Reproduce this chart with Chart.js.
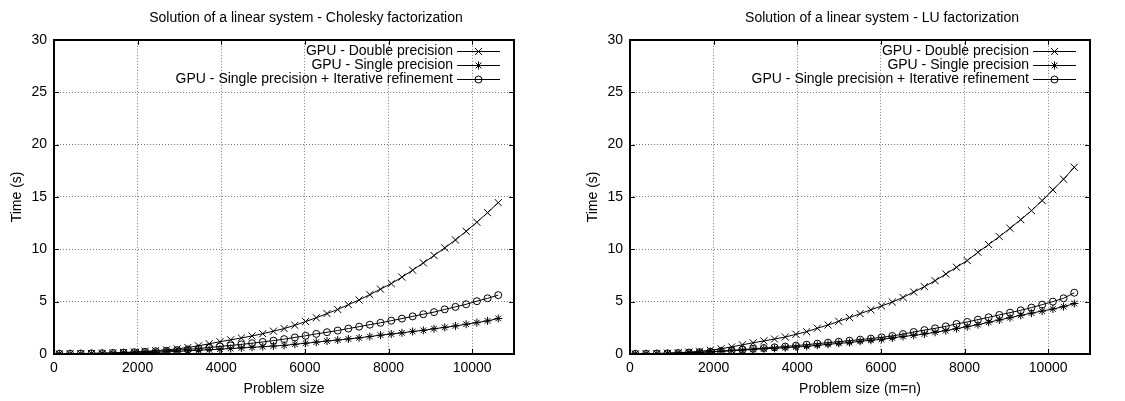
<!DOCTYPE html>
<html>
<head>
<meta charset="utf-8">
<script src="https://cdn.jsdelivr.net/npm/chart.js@4/dist/chart.umd.min.js"></script>
<style>
    html, body { margin: 0; padding: 0; background: #fff; overflow: hidden; }
    body { width: 1125px; height: 401px; position: relative; }
    canvas { position: absolute; top: 0; }
    #cholCanvas { left: 0; }
    #luCanvas { left: 576px; }
</style>
</head>
<body>
<canvas id="cholCanvas" width="612" height="401"></canvas>
<canvas id="luCanvas" width="612" height="401"></canvas>
<script>
// Problem sizes (same for both panels)
const problemSizes = [128, 384, 640, 896, 1152, 1408, 1664, 1920, 2176, 2432, 2688, 2944, 3200, 3456,
    3712, 3968, 4224, 4480, 4736, 4992, 5248, 5504, 5760, 6016, 6272, 6528, 6784, 7040,
    7296, 7552, 7808, 8064, 8320, 8576, 8832, 9088, 9344, 9600, 9856, 10112, 10368, 10624];

const seriesLabels = [
    'GPU - Double precision',
    'GPU - Single precision',
    'GPU - Single precision + Iterative refinement'
];

// Cholesky factorization, time (s)
const cholDouble = [0.01, 0.02, 0.03, 0.05, 0.07, 0.10, 0.14, 0.19, 0.25, 0.32, 0.40, 0.49, 0.62, 0.78,
    0.98, 1.17, 1.35, 1.53, 1.72, 1.94, 2.18, 2.43, 2.74, 3.10, 3.46, 3.86, 4.25, 4.71,
    5.16, 5.67, 6.19, 6.72, 7.34, 8.00, 8.70, 9.40, 10.13, 10.89, 11.72, 12.58, 13.50, 14.45];
const cholSingle = [0.01, 0.01, 0.02, 0.03, 0.04, 0.06, 0.08, 0.10, 0.13, 0.16, 0.20, 0.25, 0.30, 0.36,
    0.41, 0.46, 0.52, 0.58, 0.64, 0.70, 0.76, 0.82, 0.93, 1.03, 1.13, 1.24, 1.33, 1.44,
    1.54, 1.67, 1.80, 1.91, 2.02, 2.15, 2.26, 2.41, 2.54, 2.68, 2.84, 3.00, 3.16, 3.39];
const cholIter = [0.02, 0.03, 0.04, 0.06, 0.08, 0.10, 0.13, 0.17, 0.21, 0.26, 0.31, 0.37, 0.44, 0.52,
    0.62, 0.72, 0.82, 0.92, 1.03, 1.15, 1.28, 1.42, 1.58, 1.74, 1.92, 2.08, 2.24, 2.43,
    2.61, 2.80, 2.98, 3.18, 3.38, 3.59, 3.80, 4.00, 4.26, 4.50, 4.75, 5.04, 5.32, 5.62];

// LU factorization, time (s)
const luDouble = [0.01, 0.03, 0.05, 0.08, 0.12, 0.18, 0.26, 0.36, 0.50, 0.68, 0.88, 1.07, 1.25, 1.43,
    1.62, 1.88, 2.13, 2.46, 2.77, 3.12, 3.48, 3.85, 4.22, 4.59, 4.96, 5.40, 5.92, 6.43,
    7.00, 7.64, 8.28, 8.92, 9.71, 10.45, 11.21, 12.00, 12.83, 13.69, 14.65, 15.67, 16.69, 17.83];
const luSingle = [0.01, 0.02, 0.03, 0.05, 0.08, 0.11, 0.15, 0.20, 0.25, 0.31, 0.37, 0.43, 0.49, 0.54,
    0.60, 0.67, 0.73, 0.83, 0.92, 1.02, 1.09, 1.21, 1.31, 1.40, 1.53, 1.67, 1.78, 1.91,
    2.07, 2.23, 2.42, 2.61, 2.80, 3.03, 3.25, 3.47, 3.69, 3.90, 4.10, 4.30, 4.52, 4.82];
const luIter = [0.01, 0.02, 0.04, 0.06, 0.09, 0.13, 0.17, 0.22, 0.28, 0.35, 0.42, 0.50, 0.57, 0.64,
    0.71, 0.80, 0.89, 0.99, 1.08, 1.18, 1.27, 1.37, 1.47, 1.59, 1.72, 1.90, 2.10, 2.28,
    2.45, 2.64, 2.87, 3.06, 3.28, 3.50, 3.73, 3.95, 4.17, 4.43, 4.71, 5.00, 5.32, 5.85];

// Axis ticks
const xTicks = [0, 2000, 4000, 6000, 8000, 10000];
const yTicks = [0, 5, 10, 15, 20, 25, 30];

const FONT = "'Liberation Sans', Arial, Helvetica, sans-serif";
Chart.defaults.font.family = FONT;
Chart.defaults.font.size = 14;
Chart.defaults.color = '#000';

// gnuplot-like frame, inward tics and a key with the sample on the right
const gnuplotFrame = {
    id: 'gnuplotFrame',
    beforeDatasetsDraw(chart) {
        const { ctx, chartArea: a, scales: { x, y } } = chart;
        ctx.save();
        ctx.strokeStyle = '#000';
        ctx.lineWidth = 1;
        ctx.beginPath();
        x.ticks.forEach(t => {
            const px = Math.round(x.getPixelForValue(t.value)) + 0.5;
            ctx.moveTo(px, a.bottom); ctx.lineTo(px, a.bottom - 5);
            ctx.moveTo(px, a.top); ctx.lineTo(px, a.top + 5);
        });
        y.ticks.forEach(t => {
            const py = Math.round(y.getPixelForValue(t.value)) + 0.5;
            ctx.moveTo(a.left, py); ctx.lineTo(a.left + 5, py);
            ctx.moveTo(a.right, py); ctx.lineTo(a.right - 5, py);
        });
        ctx.stroke();
        ctx.restore();
    },
    afterDraw(chart) {
        const { ctx, chartArea: a } = chart;
        ctx.save();
        ctx.strokeStyle = '#000';
        ctx.lineWidth = 2;
        ctx.strokeRect(Math.round(a.left), Math.round(a.top), Math.round(a.width), Math.round(a.height));

        // key, anchored to the right edge of the frame
        ctx.font = '14px ' + FONT;
        ctx.textAlign = 'right';
        ctx.textBaseline = 'middle';
        chart.data.datasets.forEach((ds, i) => {
            const ky = Math.round(a.top + 11 + i * 14.3) + 0.5;
            ctx.fillStyle = '#000';
            ctx.fillText(ds.label, a.right - 61, ky);
            ctx.lineWidth = 1;
            ctx.beginPath();
            ctx.moveTo(a.right - 57, ky);
            ctx.lineTo(a.right - 14, ky);
            ctx.stroke();
            ctx.fillStyle = 'rgba(0,0,0,0)';
            Chart.helpers.drawPoint(ctx, {
                pointStyle: ds.pointStyle,
                radius: ds.pointRadius,
                borderWidth: 1,
                rotation: 0
            }, a.right - 35.5, ky);
        });
        ctx.restore();
    }
};

function makeSeries(label, values, style, radius) {
    return {
        label: label,
        data: problemSizes.map((n, i) => ({ x: n, y: values[i] })),
        borderColor: '#000',
        backgroundColor: 'rgba(0,0,0,0)',
        borderWidth: 1,
        pointStyle: style,
        pointRadius: radius,
        pointBorderWidth: 1,
        pointBorderColor: '#000',
        pointBackgroundColor: 'rgba(0,0,0,0)',
        tension: 0,
        fill: false
    };
}

function buildPanel(canvasId, titleText, xTitle, doubleVals, singleVals, iterVals) {
    const gridStyle = { color: '#777', lineWidth: 1, drawTicks: false };
    return new Chart(document.getElementById(canvasId), {
        type: 'line',
        data: {
            datasets: [
                makeSeries(seriesLabels[0], doubleVals, 'crossRot', 5),
                makeSeries(seriesLabels[1], singleVals, 'star', 4),
                makeSeries(seriesLabels[2], iterVals, 'circle', 3.5)
            ]
        },
        options: {
            responsive: false,
            animation: false,
            events: [],
            layout: { padding: 0 },
            plugins: {
                legend: { display: false },
                tooltip: { enabled: false },
                title: {
                    display: true,
                    text: titleText,
                    fullSize: true, // centred on the whole canvas, as gnuplot does
                    color: '#000',
                    font: { size: 14, weight: 'normal' },
                    padding: { top: 10, bottom: 13 }
                }
            },
            scales: {
                x: {
                    type: 'linear',
                    min: 0,
                    max: 11000,
                    afterBuildTicks: s => { s.ticks = xTicks.map(v => ({ value: v })); },
                    afterFit: s => { s.height = 47; },
                    ticks: { padding: 6, maxRotation: 0, autoSkip: false, callback: v => String(v) },
                    grid: gridStyle,
                    border: { display: false, dash: [1, 2] },
                    title: { display: true, text: xTitle, color: '#000', padding: { top: 0, bottom: 3 } }
                },
                y: {
                    min: 0,
                    max: 30,
                    afterBuildTicks: s => { s.ticks = yTicks.map(v => ({ value: v })); },
                    afterFit: s => { s.width = 54; },
                    ticks: { padding: 7, callback: v => String(v) },
                    grid: gridStyle,
                    border: { display: false, dash: [1, 2] },
                    title: { display: true, text: 'Time (s)', color: '#000', padding: { top: 9, bottom: 0 } }
                },
                // empty right margin of the gnuplot page
                margin: {
                    position: 'right',
                    min: 0,
                    max: 30,
                    afterFit: s => { s.width = 98; },
                    ticks: { display: false },
                    grid: { display: false },
                    border: { display: false }
                }
            }
        },
        plugins: [gnuplotFrame]
    });
}

buildPanel('cholCanvas', 'Solution of a linear system - Cholesky factorization', 'Problem size',
    cholDouble, cholSingle, cholIter);
buildPanel('luCanvas', 'Solution of a linear system - LU factorization', 'Problem size (m=n)',
    luDouble, luSingle, luIter);
</script>
</body>
</html>
